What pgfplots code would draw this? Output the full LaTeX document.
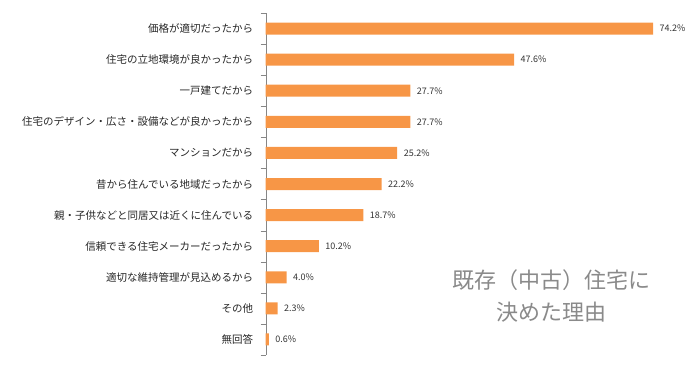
\documentclass[border=0pt]{standalone}
\usepackage{fontspec}
\setmainfont{Noto Sans CJK JP}
\usepackage{pgfplots}
\pgfplotsset{compat=1.18}
\definecolor{barorange}{HTML}{F79646}
\definecolor{axgray}{HTML}{868686}
\definecolor{titlegray}{HTML}{8A8A8A}
\begin{document}
\begin{tikzpicture}
\useasboundingbox (0,0) rectangle (698pt,364pt);
\begin{axis}[
  at={(265.7pt,9pt)}, anchor=south west,
  x=5.22pt, y=31.09pt,
  xmin=0, xmax=82.7,
  ymin=0.5, ymax=11.5, y dir=reverse,
  axis y line*=left, axis x line=none,
  axis line style={axgray},
  ytick={1,...,11},
  yticklabels={価格が適切だったから,住宅の立地環境が良かったから,一戸建てだから,住宅のデザイン・広さ・設備などが良かったから,マンションだから,昔から住んでいる地域だったから,親・子供などと同居又は近くに住んでいる,信頼できる住宅メーカーだったから,適切な維持管理が見込めるから,その他,無回答},
  major tick length=0pt,
  minor ytick={0.5,1.5,...,11.5},
  minor tick length=5pt,
  tick align=outside,
  tick style={axgray},
  yticklabel style={font=\fontsize{10.5}{12}\selectfont, text=black!85, xshift=-9pt},
  xbar, bar width=12pt,
  point meta=x,
  /pgf/number format/assume math mode=true,
  nodes near coords={\pgfmathprintnumber[fixed,fixed zerofill,precision=1,assume math mode=true]{\pgfplotspointmeta}\%},
  nodes near coords style={font=\fontsize{9}{10}\selectfont, text=black!80, anchor=west, xshift=3pt},
  clip=false,
]
\addplot[fill=barorange, draw=none, bar shift=0pt] coordinates {
(74.2,1) (47.6,2) (27.7,3) (27.7,4) (25.2,5) (22.2,6) (18.7,7) (10.2,8) (4.0,9) (2.3,10) (0.6,11)
};
\end{axis}
\node[align=center, font=\fontsize{22}{32}\selectfont, text=titlegray] at (551pt,68pt) {既存（中古）住宅に\\決めた理由};
\end{tikzpicture}
\end{document}
